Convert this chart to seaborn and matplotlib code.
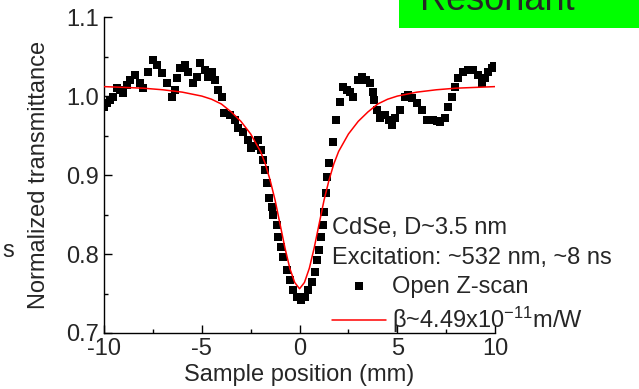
import numpy as np
import pandas as pd
import matplotlib
matplotlib.use("Agg")
import matplotlib.pyplot as plt
import seaborn as sns
from matplotlib.patches import Rectangle
from matplotlib.ticker import MultipleLocator

# Open Z-scan data (sample position in mm, normalized transmittance)
z_pos = [-10.0, -9.85, -9.69, -9.54, -9.34, -9.18, -9.03, -8.82, -8.67, -8.41,
         -8.16, -8.01, -7.75, -7.49, -7.29, -7.03, -6.78, -6.52, -6.37, -6.27,
         -6.11, -5.86, -5.70, -5.45, -5.24, -5.09, -4.83, -4.68, -4.48, -4.32,
         -4.17, -3.96, -3.86, -3.55, -3.30, -3.15, -2.89, -2.63, -2.48, -2.28,
         -2.12, -1.97, -1.87, -1.76, -1.66, -1.56, -1.41, -1.36, -1.15, -1.10,
         -0.95, -0.84, -0.64, -0.49, -0.33, -0.13, 0.08, 0.28, 0.43, 0.64,
         0.79, 0.90, 1.00, 1.10, 1.20, 1.25, 1.36, 1.41, 1.51, 1.71,
         1.87, 2.07, 2.23, 2.43, 2.58, 2.74, 2.99, 3.20, 3.40, 3.61,
         3.76, 3.81, 3.96, 4.12, 4.37, 4.58, 4.73, 4.88, 5.14, 5.40,
         5.55, 5.75, 6.01, 6.27, 6.52, 6.83, 7.03, 7.19, 7.44, 7.60,
         7.80, 7.95, 8.11, 8.36, 8.62, 8.87, 9.13, 9.34, 9.49, 9.64,
         9.85, 9.95]
transmit = [0.986, 0.991, 0.995, 0.999, 1.010, 1.008, 1.004, 1.014, 1.020, 1.027,
            1.016, 1.010, 1.030, 1.046, 1.039, 1.029, 1.016, 0.999, 1.008, 1.023,
            1.035, 1.039, 1.030, 1.016, 1.024, 1.042, 1.033, 1.024, 1.030, 1.020,
            1.008, 0.999, 0.978, 0.976, 0.970, 0.959, 0.954, 0.944, 0.934, 0.937,
            0.944, 0.932, 0.919, 0.906, 0.890, 0.871, 0.860, 0.849, 0.837, 0.822,
            0.809, 0.796, 0.780, 0.767, 0.754, 0.746, 0.742, 0.746, 0.754, 0.765,
            0.777, 0.792, 0.805, 0.822, 0.837, 0.853, 0.877, 0.897, 0.915, 0.942,
            0.970, 0.992, 1.011, 1.008, 1.005, 0.999, 1.020, 1.024, 1.020, 1.016,
            1.005, 0.995, 0.982, 0.972, 0.976, 0.970, 0.963, 0.972, 0.982, 0.999,
            1.001, 0.997, 0.991, 0.982, 0.970, 0.970, 0.968, 0.967, 0.972, 0.986,
            0.999, 1.011, 1.023, 1.030, 1.033, 1.033, 1.027, 1.016, 1.023, 1.030,
            1.035, 1.038]

# Fitted curve
fit_pos = [-10, -9, -8, -7, -6, -5, -4.5, -4, -3.5, -3, -2.5, -2, -1.75, -1.5,
           -1.25, -1, -0.75, -0.5, -0.25, 0, 0.25, 0.5, 0.75, 1, 1.25, 1.5,
           1.75, 2, 2.5, 3, 3.5, 4, 4.5, 5, 6, 7, 8, 9, 10]
fit_val = [1.012, 1.011, 1.010, 1.008, 1.005, 1.000, 0.996, 0.990, 0.980, 0.968,
           0.952, 0.930, 0.914, 0.893, 0.868, 0.838, 0.808, 0.782, 0.764, 0.756,
           0.764, 0.782, 0.808, 0.838, 0.868, 0.893, 0.914, 0.930, 0.952, 0.968,
           0.980, 0.990, 0.996, 1.000, 1.005, 1.008, 1.010, 1.011, 1.012]

data = pd.DataFrame({"z": z_pos, "T": transmit})
fit = pd.DataFrame({"z": fit_pos, "T": fit_val})

sns.set_style("ticks")
plt.rcParams["font.family"] = ["Liberation Sans", "DejaVu Sans"]
plt.rcParams["mathtext.default"] = "regular"
plt.rcParams["axes.unicode_minus"] = False

fig = plt.figure(figsize=(6.39, 3.89), dpi=100)
ax = fig.add_axes([0.1628, 0.144, 0.612, 0.812])

sns.scatterplot(data=data, x="z", y="T", marker="s", s=40, color="black",
                linewidth=0, label="Open Z-scan", ax=ax, zorder=2)
sns.lineplot(data=fit, x="z", y="T", color="red", linewidth=1.1,
             label="β~4.49x10$^{-11}$m/W", ax=ax, zorder=3)

ax.set_xlim(-10, 10)
ax.set_ylim(0.7, 1.1)
ax.xaxis.set_major_locator(MultipleLocator(5))
ax.xaxis.set_minor_locator(MultipleLocator(2.5))
ax.yaxis.set_major_locator(MultipleLocator(0.1))
ax.yaxis.set_minor_locator(MultipleLocator(0.05))
ax.tick_params(which="both", direction="in", labelsize=17, width=1, color="black")
ax.tick_params(which="major", length=6)
ax.tick_params(which="minor", length=3)
sns.despine(ax=ax)
for sp in ax.spines.values():
    sp.set_color("black")
    sp.set_linewidth(1)

ax.set_xlabel("Sample position (mm)", fontsize=17, labelpad=3)
ax.set_ylabel("Normalized transmittance", fontsize=17, labelpad=12)

leg = ax.legend(title="CdSe, D~3.5 nm\nExcitation: ~532 nm, ~8 ns",
                loc="lower left", bbox_to_anchor=(0.519, 0.139),
                bbox_transform=fig.transFigure, frameon=False, fontsize=17,
                title_fontsize=17, handlelength=2.3, handletextpad=0.25,
                borderpad=0, borderaxespad=0, labelspacing=0.3, markerscale=0.85)
leg._legend_box.align = "left"
leg.get_title().set_linespacing(1.45)

# Green label box at top right
fig.patches.append(Rectangle((0.624, 0.928), 0.376, 0.072, transform=fig.transFigure,
                             facecolor="#00ff00", edgecolor="none", zorder=0))
fig.text(0.657, 0.974, "Resonant", fontsize=26, va="baseline", ha="left")
fig.text(0.022, 1 - 257 / 389, "s", fontsize=17, va="baseline", ha="right")

fig.savefig("out.png", dpi=100)
